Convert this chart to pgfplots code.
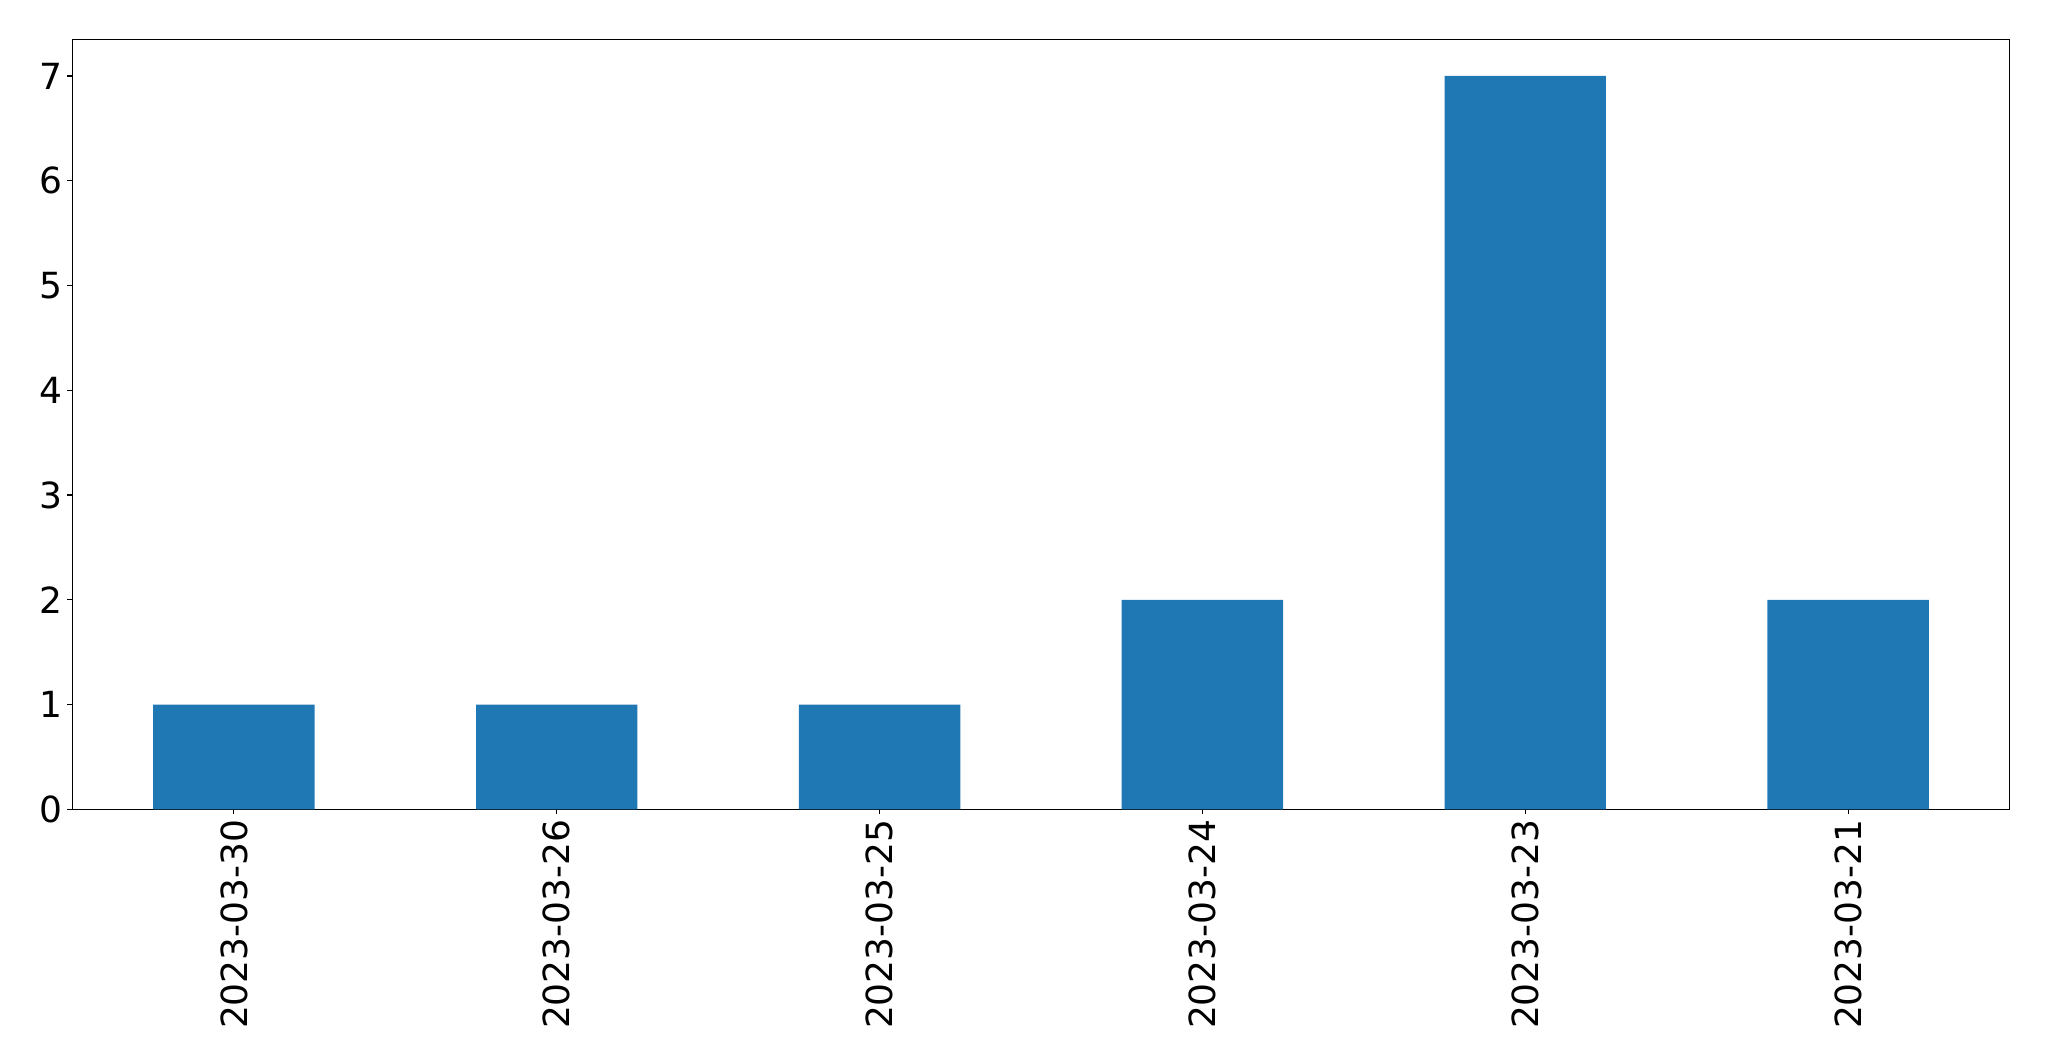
\documentclass[border=0pt]{standalone}
\usepackage{fontspec}
\setmainfont{DejaVu Sans}
\usepackage{pgfplots}
\pgfplotsset{compat=1.18}
\definecolor{barblue}{HTML}{1F77B4}

\begin{document}
\begin{tikzpicture}
% 1px of the reference = 0.5pt
\path (-36.25pt,-125.85pt) rectangle (988.25pt,404.65pt);
\begin{axis}[
    at={(0,0)}, anchor=south west,
    scale only axis,
    width=968.5pt, height=385pt,
    xmin=-0.5, xmax=5.5,
    ymin=0, ymax=7.35,
    xtick={0,1,2,3,4,5},
    xticklabels={2023-03-30, 2023-03-26, 2023-03-25, 2023-03-24, 2023-03-23, 2023-03-21},
    ytick={0,1,2,3,4,5,6,7},
    tick pos=left,
    tick align=outside,
    major tick length=2.5pt,
    every tick/.style={black, line width=0.55pt},
    axis line style={line width=0.55pt},
    /pgf/number format/assume math mode=true,
    ticklabel style={font=\fontsize{18}{21}\selectfont},
    xticklabel style={rotate=90, anchor=east, inner sep=2.5pt},
    yticklabel style={inner sep=2.5pt},
    ]
    \addplot[ybar, bar width=0.5, fill=barblue, draw=none] coordinates {
        (0,1) (1,1) (2,1) (3,2) (4,7) (5,2)
    };
\end{axis}
\end{tikzpicture}
\end{document}
